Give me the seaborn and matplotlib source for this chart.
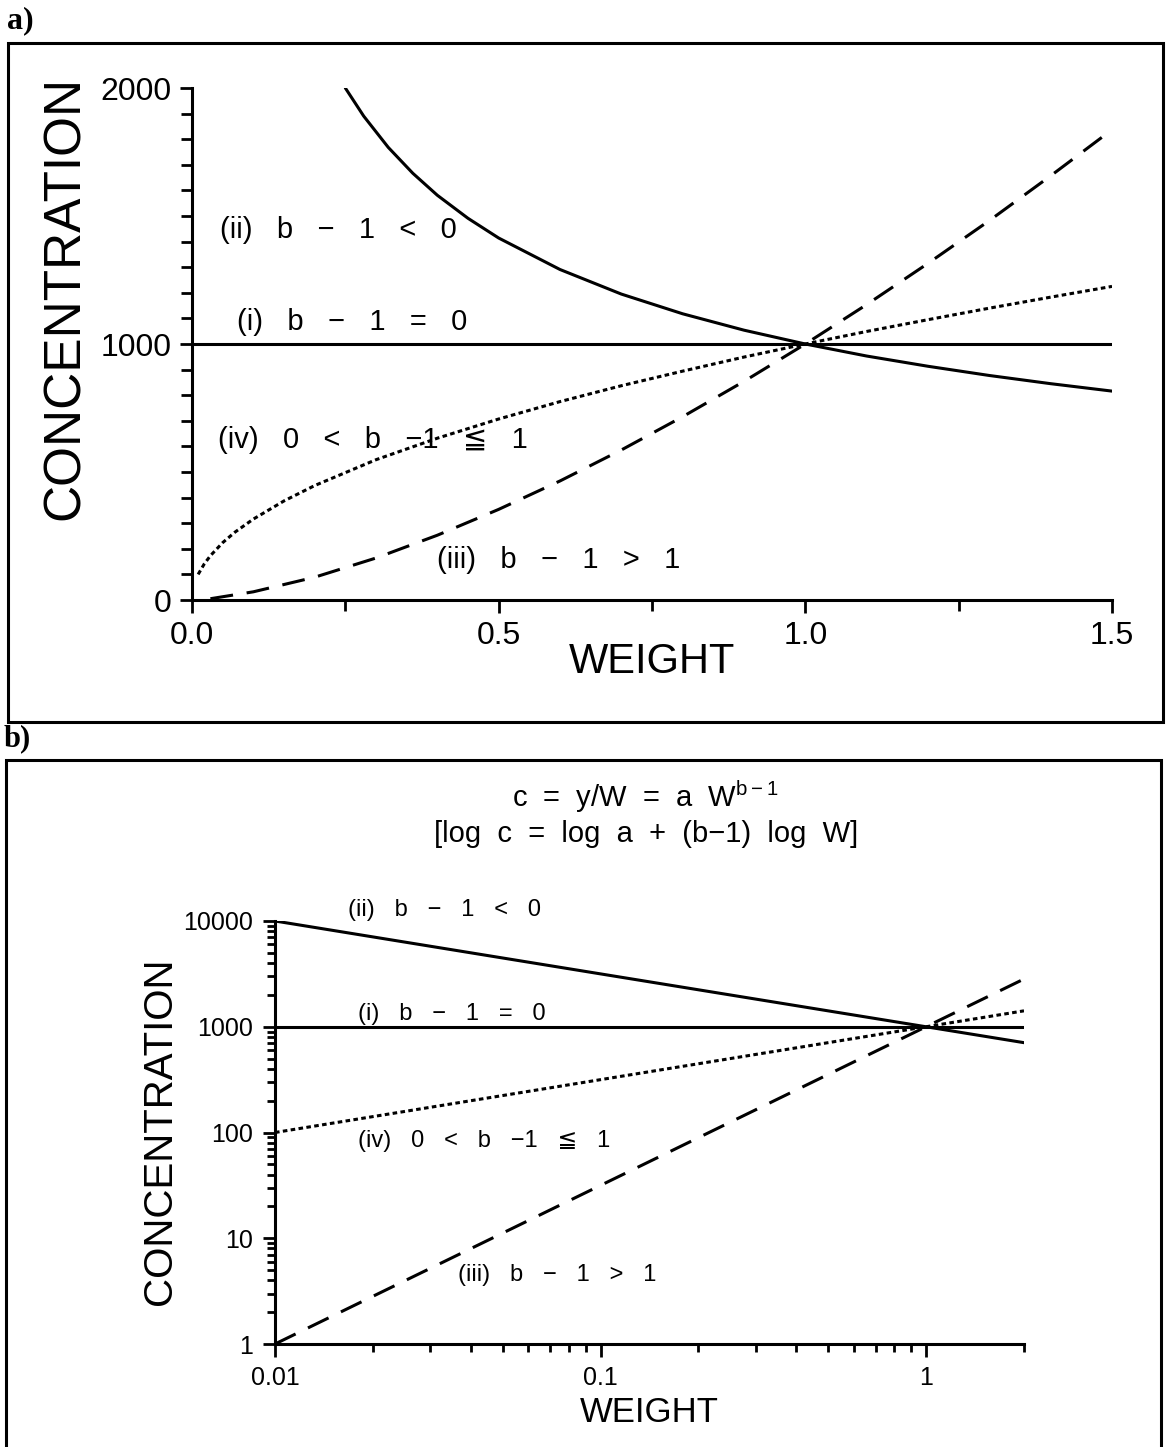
import numpy as np
import pandas as pd
import matplotlib
matplotlib.use("Agg")
import matplotlib.pyplot as plt
from matplotlib.patches import Rectangle
from matplotlib.ticker import FixedLocator, FixedFormatter, LogLocator, NullFormatter
import seaborn as sns

# ---------------- data ----------------
cases = ["i", "ii", "iii", "iv"]

# panel a (linear axes)
a_i_W = [0.0, 1.5]
a_i_c = [1000, 1000]
a_ii_W = [0.25, 0.28, 0.32, 0.36, 0.40, 0.45, 0.50, 0.60, 0.70, 0.80, 0.90, 1.00,
          1.10, 1.20, 1.30, 1.40, 1.50]
a_ii_c = [2000, 1890, 1768, 1667, 1581, 1491, 1414, 1291, 1195, 1118, 1054, 1000,
          953, 913, 877, 845, 816]
a_iii_W = [0.03, 0.10, 0.20, 0.30, 0.40, 0.50, 0.60, 0.70, 0.80, 0.90, 1.00, 1.10,
           1.20, 1.30, 1.40, 1.50]
a_iii_c = [5, 32, 89, 164, 253, 354, 465, 586, 716, 854, 1000, 1154, 1315, 1482,
           1657, 1837]
a_iv_W = [0.01, 0.02, 0.03, 0.05, 0.07, 0.10, 0.15, 0.20, 0.30, 0.40, 0.50, 0.60,
          0.70, 0.80, 0.90, 1.00, 1.10, 1.20, 1.30, 1.40, 1.50]
a_iv_c = [100, 141, 173, 224, 265, 316, 387, 447, 548, 632, 707, 775, 837, 894,
          949, 1000, 1049, 1095, 1140, 1183, 1225]

# panel b (log-log axes)
b_W = [0.01, 0.1, 1.0, 2.0]
b_i_c = [1000, 1000, 1000, 1000]
b_ii_c = [10000, 3162, 1000, 707]
b_iii_c = [1, 31.6, 1000, 2828]
b_iv_c = [100, 316, 1000, 1414]

a_xticks = [0.0, 0.5, 1.0, 1.5]
a_xticklabels = ["0.0", "0.5", "1.0", "1.5"]
a_yticks = [0, 1000, 2000]
a_yticklabels = ["0", "1000", "2000"]
b_xticks = [0.01, 0.1, 1]
b_xticklabels = ["0.01", "0.1", "1"]
b_yticks = [1, 10, 100, 1000, 10000]
b_yticklabels = ["1", "10", "100", "1000", "10000"]

case_labels = {"ii": "(ii)   b   \u2212   1   <   0",
               "i": "(i)   b   \u2212   1   =   0",
               "iv": "(iv)   0   <   b   \u22121   \u2266   1",
               "iii": "(iii)   b   \u2212   1   >   1"}

# ---------------- frames ----------------
df_a = pd.concat([
    pd.DataFrame({"W": a_i_W, "c": a_i_c, "case": "i"}),
    pd.DataFrame({"W": a_ii_W, "c": a_ii_c, "case": "ii"}),
    pd.DataFrame({"W": a_iii_W, "c": a_iii_c, "case": "iii"}),
    pd.DataFrame({"W": a_iv_W, "c": a_iv_c, "case": "iv"}),
], ignore_index=True)
df_b = pd.concat([
    pd.DataFrame({"W": b_W, "c": b_i_c, "case": "i"}),
    pd.DataFrame({"W": b_W, "c": b_ii_c, "case": "ii"}),
    pd.DataFrame({"W": b_W, "c": b_iii_c, "case": "iii"}),
    pd.DataFrame({"W": b_W, "c": b_iv_c, "case": "iv"}),
], ignore_index=True)

dash_map = {"i": "", "ii": "", "iii": (7.5, 4.5), "iv": (1.5, 1.1)}

# ---------------- style ----------------
sns.set_style("ticks")
plt.rcParams["font.family"] = ["Liberation Sans", "DejaVu Sans"]
plt.rcParams.update({"text.color": "black", "axes.labelcolor": "black",
                     "xtick.color": "black", "ytick.color": "black",
                     "axes.edgecolor": "black"})
LW = 2.2

W_PX, H_PX = 1166, 1447
fig = plt.figure(figsize=(W_PX / 100, H_PX / 100), dpi=100)

def fx(px):
    return px / W_PX

def fy(py):
    return 1 - py / H_PX

ax_a = fig.add_axes([fx(192), fy(600), fx(1112) - fx(192), fy(88) - fy(600)])
ax_b = fig.add_axes([fx(275), fy(1344), fx(1024) - fx(275), fy(921) - fy(1344)])

# ---------------- panel a ----------------
sns.lineplot(data=df_a, x="W", y="c", style="case", dashes=dash_map, color="black",
             lw=LW, estimator=None, sort=False, legend=False, ax=ax_a)
ax_a.set_xlim(0, 1.5)
ax_a.set_ylim(0, 2000)
ax_a.xaxis.set_major_locator(FixedLocator(a_xticks))
ax_a.xaxis.set_major_formatter(FixedFormatter(a_xticklabels))
ax_a.xaxis.set_minor_locator(FixedLocator([0.25, 0.75, 1.25]))
ax_a.yaxis.set_major_locator(FixedLocator(a_yticks))
ax_a.yaxis.set_major_formatter(FixedFormatter(a_yticklabels))
ax_a.yaxis.set_minor_locator(FixedLocator(list(range(100, 2000, 100))))
ax_a.tick_params(which="both", direction="out", width=2, colors="black")
ax_a.tick_params(which="major", length=9, labelsize=23, pad=6)
ax_a.tick_params(which="minor", length=8)
ax_a.set_xlabel("WEIGHT", fontsize=30)
ax_a.xaxis.label.set(va="center")
ax_a.xaxis.set_label_coords(0.5, -0.121)
ax_a.set_ylabel("CONCENTRATION", fontsize=37)
ax_a.yaxis.label.set(ha="center", va="center")
ax_a.yaxis.set_label_coords(-0.138, 0.59)

ax_a.text(0.046, 1445, case_labels["ii"], fontsize=21, va="center", ha="left")
ax_a.text(0.073, 1086, case_labels["i"], fontsize=21, va="center", ha="left")
ax_a.text(0.042, 625, case_labels["iv"], fontsize=21, va="center", ha="left")
ax_a.text(0.40, 156, case_labels["iii"], fontsize=21, va="center", ha="left")

# ---------------- panel b ----------------
ax_b.set_xscale("log")
ax_b.set_yscale("log")
sns.lineplot(data=df_b, x="W", y="c", style="case", dashes=dash_map, color="black",
             lw=LW, estimator=None, sort=False, legend=False, ax=ax_b)
ax_b.set_xlim(0.01, 2)
ax_b.set_ylim(1, 10000)
ax_b.xaxis.set_major_locator(FixedLocator(b_xticks))
ax_b.xaxis.set_major_formatter(FixedFormatter(b_xticklabels))
ax_b.xaxis.set_minor_locator(LogLocator(base=10, subs=np.arange(2, 10)))
ax_b.xaxis.set_minor_formatter(NullFormatter())
ax_b.yaxis.set_major_locator(FixedLocator(b_yticks))
ax_b.yaxis.set_major_formatter(FixedFormatter(b_yticklabels))
ax_b.yaxis.set_minor_locator(LogLocator(base=10, subs=np.arange(2, 10)))
ax_b.yaxis.set_minor_formatter(NullFormatter())
ax_b.tick_params(which="both", direction="out", width=2, colors="black")
ax_b.tick_params(which="major", length=9, labelsize=18, pad=7)
ax_b.tick_params(which="minor", length=6)
ax_b.tick_params(axis="x", which="major", pad=7)
ax_b.set_xlabel("WEIGHT", fontsize=25)
ax_b.xaxis.label.set(va="center")
ax_b.xaxis.set_label_coords(0.5, -0.163)
ax_b.set_ylabel("CONCENTRATION", fontsize=29)
ax_b.yaxis.label.set(ha="center", va="center")
ax_b.yaxis.set_label_coords(-0.1535, 0.5035)

ax_b.text(0.0168, 12700, case_labels["ii"], fontsize=17, va="center", ha="left")
ax_b.text(0.018, 1327, case_labels["i"], fontsize=17, va="center", ha="left")
ax_b.text(0.018, 84, case_labels["iv"], fontsize=17, va="center", ha="left")
ax_b.text(0.0366, 4.47, case_labels["iii"], fontsize=17, va="center", ha="left")

fig.text(fx(646), fy(797), "c  =  y/W  =  a  W$^{\\mathregular{b\u22121}}$",
         fontsize=21, ha="center", va="center")
fig.text(fx(646), fy(834), "[log  c  =  log  a  +  (b\u22121)  log  W]",
         fontsize=21, ha="center", va="center")

for ax in (ax_a, ax_b):
    sns.despine(ax=ax)
    for s in ("left", "bottom"):
        ax.spines[s].set_linewidth(2.2)
        ax.spines[s].set_color("black")

# ---------------- frames and panel letters ----------------
fig.add_artist(Rectangle((fx(8), fy(722)), fx(1163) - fx(8), fy(43) - fy(722),
                         transform=fig.transFigure, fill=False, lw=2.2, ec="black"))
fig.add_artist(Rectangle((fx(6), fy(1460)), fx(1161) - fx(6), fy(760) - fy(1460),
                         transform=fig.transFigure, fill=False, lw=2.2, ec="black",
                         clip_on=False))
fig.text(fx(7), fy(21), "a)", fontsize=23, fontweight="bold",
         family=["Liberation Serif", "DejaVu Serif"], ha="left", va="center")
fig.text(fx(4), fy(739), "b)", fontsize=22, fontweight="bold",
         family=["Liberation Serif", "DejaVu Serif"], ha="left", va="center")

fig.savefig("out.png", dpi=100, facecolor="white")
